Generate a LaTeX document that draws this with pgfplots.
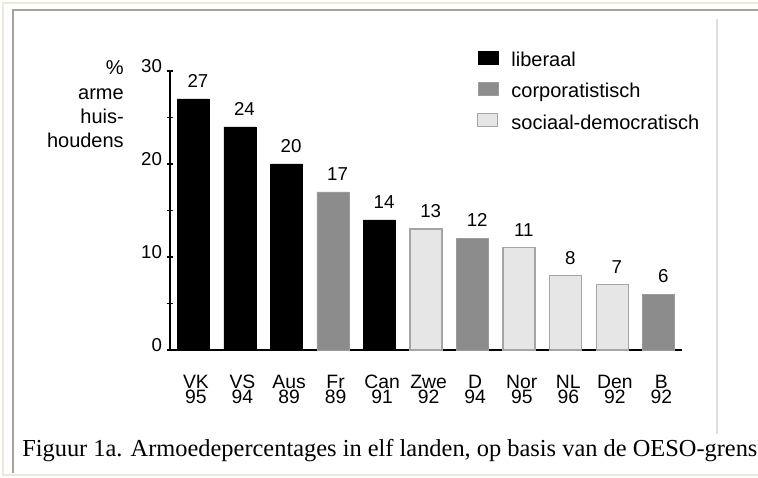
\documentclass[border=0pt]{standalone}
\usepackage{fontspec}
\setmainfont{Liberation Serif}
\newfontfamily\chartfont{Liberation Sans}
\usepackage{pgfplots}
\pgfplotsset{compat=1.18}
\definecolor{corp}{RGB}{140,140,140}
\definecolor{corpedge}{RGB}{155,155,155}
\definecolor{soc}{RGB}{230,230,230}
\definecolor{socedge}{RGB}{165,165,165}
\definecolor{beige}{RGB}{236,233,216}
\definecolor{framegray}{RGB}{165,165,158}
\definecolor{rightline}{RGB}{222,222,222}
\newcommand{\cf}{\chartfont\fontsize{15}{18}\selectfont}
\newcommand{\nf}{\chartfont\fontsize{14}{17}\selectfont}
\begin{document}
\begin{tikzpicture}
\useasboundingbox (0,0) rectangle (568.5pt,358.5pt);
\begin{scope}[x=0.75pt,y=-0.75pt,yshift=358.5pt]
  \draw[beige,line width=1.5pt] (758,3) -- (3,3) -- (3,475.5) -- (758,475.5);
  \draw[framegray,line width=1.5pt] (758,10) -- (13,10) -- (13,473);
  \draw[rightline,line width=1.5pt] (717,19) -- (717,434);
  \node[anchor=base west,inner sep=0pt,font=\fontsize{18.3}{22}\selectfont] at (22,457)
    {Figuur 1a. Armoedepercentages in elf landen, op basis van de OESO-grens};
\end{scope}
\begin{axis}[
  at={(127.5pt,96pt)}, anchor=south west,
  width=384pt, height=209.25pt, scale only axis,
  xmin=-0.5, xmax=10.5, ymin=0, ymax=30,
  clip=false,
  ybar, bar width=24pt,
  axis x line=bottom, axis y line=left,
  axis line style={-, line width=1.5pt, black},
  ytick={0,10,20,30}, minor ytick={5,15,25},
  xtick={0,1,2,3,4,5,6,7,8,9,10},
  xticklabels={{VK\\95},{VS\\94},{Aus\\89},{Fr\\89},{Can\\91},{Zwe\\92},{D\\94},{Nor\\95},{NL\\96},{Den\\92},{B\\92}},
  tick align=center,
  major tick length=5pt, minor tick length=5pt,
  every tick/.style={black, line width=1.2pt},
  x tick style={draw=none},
  /pgf/number format/assume math mode=true,
  yticklabel style={font=\nf, yshift=3.5pt},
  xticklabel style={font=\chartfont\fontsize{14.5}{11.6}\selectfont, align=center, anchor=north, yshift=-12.5pt, xshift=2pt},
  nodes near coords,
  every node near coord/.append style={font=\nf, anchor=base, yshift=8.6pt, xshift=3.5pt},
  legend style={legend cell align=left, draw=none, fill=none,
    at={(axis description cs:0.5996,1.0742)}, anchor=north west, inner sep=0pt,
    nodes={inner sep=0pt, text height=11pt, text depth=3pt, font=\cf},
    row sep=8.5pt, column sep=9.75pt},
  legend image code/.code={\draw[#1] (0pt,-2pt) rectangle (15pt,7.75pt);},
]
\addplot[fill=black, draw=black, bar shift=0pt] coordinates {(0,27) (1,24) (2,20) (4,14)};
\addplot[fill=corp, draw=corpedge, bar shift=0pt] coordinates {(3,17) (6,12) (10,6)};
\addplot[fill=soc, draw=socedge, line width=0.9pt, bar shift=0pt] coordinates {(5,13) (7,11) (8,8) (9,7)};
\legend{liberaal, corporatistisch, sociaal-democratisch}
\node[anchor=base east, font=\cf, inner sep=0pt] at (axis description cs:-0.0898,0.9892) {\%};
\node[anchor=base east, font=\cf, inner sep=0pt] at (axis description cs:-0.0898,0.8996) {arme};
\node[anchor=base east, font=\cf, inner sep=0pt] at (axis description cs:-0.0898,0.8136) {huis-};
\node[anchor=base east, font=\cf, inner sep=0pt] at (axis description cs:-0.0898,0.7240) {houdens};
\end{axis}
\end{tikzpicture}
\end{document}
